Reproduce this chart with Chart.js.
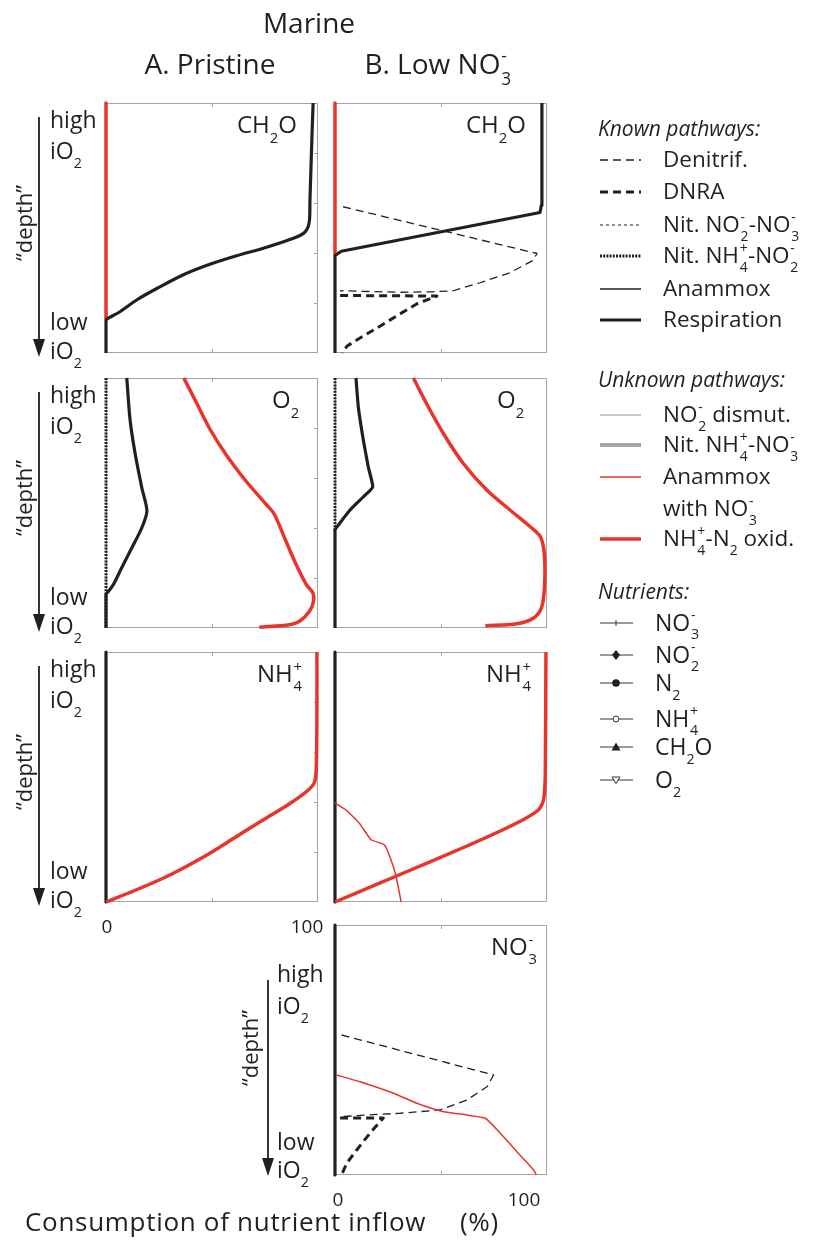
<!DOCTYPE html>
<html>
<head>
<meta charset="utf-8">
<title>Marine nitrogen pathways</title>
<script src="https://cdn.jsdelivr.net/npm/chart.js@4.4.1/dist/chart.umd.min.js"></script>
<style>
  body { margin: 0; background: #fff; }
  #fig { position: relative; width: 820px; height: 1246px; overflow: hidden;
         font-family: "Open Sans", "DejaVu Sans", sans-serif; color: #231f20; }
  #fig canvas { position: absolute; }
  #deco { position: absolute; left: 0; top: 0; }
  .t { position: absolute; line-height: 1; white-space: nowrap; }
  .sb { font-size: 0.62em; vertical-align: -0.65em; line-height: 1; }
  .ss { position: relative; display: inline-block; width: 0.4em; }
  .ss .u, .ss .d { position: absolute; left: 0.05em; font-size: 0.62em; line-height: 1; }
  .ss .u { top: -1.55em; }
  .ss .d { top: -0.24em; }
</style>
</head>
<body>
<div id="fig">
  <svg id="deco" width="820" height="1246"></svg>
</div>
<script>
// x = consumption of nutrient inflow (%), d = "depth" (0 = high iO2, 100 = low iO2)

// A. Pristine - CH2O
const aCh2oOxidX = [0, 0];
const aCh2oOxidD = [0, 86.5];
const aCh2oRespX = [0, 0, 1.2, 5.6, 15, 24.4, 37, 49, 62, 74.6, 87, 93.4, 95.8, 96.2, 97.2, 97.7];
const aCh2oRespD = [100, 87, 86, 84, 78.5, 74, 68.5, 64.5, 61, 58, 54.5, 52, 48, 39, 12, 0];

// B. Low NO3 - CH2O
const bCh2oOxidX = [0, 0];
const bCh2oOxidD = [0, 60.5];
const bCh2oRespX = [0, 0, 3, 96.7, 97.3, 97.6];
const bCh2oRespD = [100, 61, 59.3, 43.8, 41, 0];
const bCh2oDenitX = [3.8, 95.3, 93.4, 82.5, 68.4, 55.7, 46.2, 30.7, 2.4];
const bCh2oDenitD = [41.5, 60.2, 63, 67.9, 71.9, 75.1, 75.5, 75.7, 75.1];
const bCh2oDnraX = [2.4, 48.1, 38.7, 29.2, 19.8, 11.8, 5.7, 3.5];
const bCh2oDnraD = [77, 77.2, 80.3, 85.1, 90, 94, 97.2, 100];

// A. Pristine - O2
const aO2NitX = [0, 0];
const aO2NitD = [0, 100];
const aO2RespX = [9.8, 11.4, 13.8, 16.9, 19.3, 16.9, 12.2, 7.4, 3.5, 0.8, 0, 0];
const aO2RespD = [0, 17.1, 30.5, 43.9, 53.2, 59.9, 67.9, 75.9, 82.6, 85.7, 86.6, 100];
const aO2OxidX = [36.7, 42.2, 48.6, 56.5, 66, 75.5, 79.4, 84.2, 89.7, 94.5, 97.6, 97.9, 96, 91.3, 86.5, 72.3];
const aO2OxidD = [0, 9.1, 19.8, 30.5, 41.2, 50.5, 54.5, 63.9, 74.6, 82.6, 86, 89.3, 93.3, 97.3, 98.7, 99.7];

// B. Low NO3 - O2
const bO2NitX = [0, 0];
const bO2NitD = [0, 61];
const bO2RespX = [9.9, 11, 13.4, 15.7, 17.8, 13.4, 7.1, 1.6, 0, 0];
const bO2RespD = [0, 11.7, 25, 35.6, 43.6, 47.5, 52.8, 58.8, 60.8, 100];
const bO2OxidX = [37, 43.3, 51.2, 60.6, 71.7, 82.7, 92.1, 96.9, 98.7, 98.9, 97.6, 93.7, 85.8, 70.9];
const bO2OxidD = [0, 10.4, 22.3, 34.3, 44.9, 52.9, 59.5, 63.5, 70.1, 82.1, 91.4, 96, 98.3, 99.1];

// A. Pristine - NH4+
const aNh4RespX = [0, 0];
const aNh4RespD = [0, 100];
const aNh4OxidX = [0, 13.8, 26.4, 35.9, 48.6, 61.2, 73.9, 86.6, 95.3, 98.4, 99.2, 99.5, 99.5];
const aNh4OxidD = [100, 95.3, 90.7, 86.7, 80.7, 74, 67.3, 60.7, 55.3, 52, 46, 22, 0];

// B. Low NO3 - NH4+
const bNh4RespX = [0, 0];
const bNh4RespD = [0, 100];
const bNh4OxidX = [0, 30.4, 62, 85.8, 96.1, 98.4, 99.2, 99.5];
const bNh4OxidD = [100, 89.1, 77.7, 68.4, 63.1, 59.1, 48.4, 0];
const bNh4AnamX = [0, 5.1, 11.4, 17, 23.3, 26.4, 28.8, 31.2];
const bNh4AnamD = [60.4, 63.1, 68.4, 75.1, 77.1, 83.1, 89.7, 100];

// B. Low NO3 - NO3-
const bNo3RespX = [0, 0];
const bNo3RespD = [0, 100];
const bNo3DenitX = [3.1, 74.8, 71.7, 62.2, 49.6, 30.7, 15, 2.4];
const bNo3DenitD = [44, 60, 64.7, 70, 74, 75.3, 76, 76.7];
const bNo3DnraX = [2.4, 22.8, 16.5, 10.2, 5.5, 3.1];
const bNo3DnraD = [77.2, 77.2, 83.3, 90, 95.3, 100];
const bNo3AnamX = [0.8, 11.8, 27.6, 38.6, 51.2, 62.2, 70.9, 78, 85.8, 93.7, 95];
const bNo3AnamD = [60, 62.7, 67.3, 71.3, 74.7, 76, 77.3, 83.3, 90.7, 98, 100];

const xTickLabels = ['0', '100'];

const INK = '#231f20';
const RED = '#e8342a';

const STYLE = {
  denit:   { color: INK, width: 1.3, dash: [8, 5] },
  dnra:    { color: INK, width: 3, dash: [8, 5] },
  nitNO2:  { color: INK, width: 1, dash: [3, 3] },
  nitNH4:  { color: INK, width: 3, dash: [2, 1.2] },
  anam:    { color: INK, width: 1.3, dash: [] },
  resp:    { color: INK, width: 3.2, dash: [] },
  dismut:  { color: '#b3b3b3', width: 1.5, dash: [] },
  nitNO3:  { color: '#a6a6a6', width: 4, dash: [] },
  anamNO3: { color: RED, width: 1.5, dash: [] },
  oxid:    { color: RED, width: 3.5, dash: [] }
};

// panel boxes
const COL_LEFT = { A: 106, B: 335 };
const ROW_TOP = [103, 378, 652, 925];
const PW = 212, PH = 250, PAD = 6;

const sub = s => `<span class="sb">${s}</span>`;
const ss = (up, dn) => `<span class="ss"><span class="u">${up}</span><span class="d">${dn}</span></span>`;

const panels = [
  { col: 'A', row: 0, label: 'CH' + sub('2') + 'O', lx: 131, series: [
    ['oxid', aCh2oOxidX, aCh2oOxidD, 0], ['resp', aCh2oRespX, aCh2oRespD, 0.3]] },
  { col: 'B', row: 0, label: 'CH' + sub('2') + 'O', lx: 131, series: [
    ['oxid', bCh2oOxidX, bCh2oOxidD, 0], ['denit', bCh2oDenitX, bCh2oDenitD, 0],
    ['dnra', bCh2oDnraX, bCh2oDnraD, 0], ['resp', bCh2oRespX, bCh2oRespD, 0]] },
  { col: 'A', row: 1, label: 'O' + sub('2'), lx: 166, series: [
    ['nitNH4', aO2NitX, aO2NitD, 0], ['resp', aO2RespX, aO2RespD, 0.25], ['oxid', aO2OxidX, aO2OxidD, 0.3]] },
  { col: 'B', row: 1, label: 'O' + sub('2'), lx: 162, series: [
    ['nitNH4', bO2NitX, bO2NitD, 0], ['resp', bO2RespX, bO2RespD, 0.15], ['oxid', bO2OxidX, bO2OxidD, 0.3]] },
  { col: 'A', row: 2, label: 'NH' + ss('+', '4'), lx: 151, series: [
    ['resp', aNh4RespX, aNh4RespD, 0], ['oxid', aNh4OxidX, aNh4OxidD, 0.3]] },
  { col: 'B', row: 2, label: 'NH' + ss('+', '4'), lx: 151, series: [
    ['resp', bNh4RespX, bNh4RespD, 0], ['anamNO3', bNh4AnamX, bNh4AnamD, 0.1], ['oxid', bNh4OxidX, bNh4OxidD, 0.2]] },
  { col: 'B', row: 3, label: 'NO' + ss('-', '3'), lx: 156, series: [
    ['resp', bNo3RespX, bNo3RespD, 0], ['denit', bNo3DenitX, bNo3DenitD, 0],
    ['dnra', bNo3DnraX, bNo3DnraD, 0], ['anamNO3', bNo3AnamX, bNo3AnamD, 0.15]] }
];

const fig = document.getElementById('fig');
const deco = document.getElementById('deco');
const NS = 'http://www.w3.org/2000/svg';

function place(html, x, base, size, align, style) {
  const d = document.createElement('div');
  d.className = 't';
  d.innerHTML = html;
  d.style.fontSize = size + 'px';
  d.style.left = x + 'px';
  d.style.top = (base - 0.888 * size) + 'px';
  if (align === 'center') d.style.transform = 'translateX(-50%)';
  if (align === 'right') d.style.transform = 'translateX(-100%)';
  if (style) Object.assign(d.style, style);
  fig.appendChild(d);
  return d;
}

function svg(tag, attrs) {
  const el = document.createElementNS(NS, tag);
  for (const k in attrs) el.setAttribute(k, attrs[k]);
  deco.appendChild(el);
  return el;
}

// box outline and inward ticks
const framePlugin = {
  id: 'frame',
  beforeDatasetsDraw(chart, args, opts) {
    const { ctx, chartArea: a, scales: { x, y } } = chart;
    ctx.save();
    ctx.strokeStyle = '#a3a3a3';
    ctx.lineWidth = 1;
    ctx.strokeRect(a.left + 0.5, a.top + 0.5, a.width - 1, a.height - 1);
    ctx.beginPath();
    const mx = Math.round(x.getPixelForValue(50)) + 0.5;
    ctx.moveTo(mx, a.top); ctx.lineTo(mx, a.top + 4);
    ctx.moveTo(mx, a.bottom); ctx.lineTo(mx, a.bottom - 4);
    if (opts.rightTicks) {
      for (const v of [20, 40, 60, 80]) {
        const py = Math.round(y.getPixelForValue(v)) + 0.5;
        ctx.moveTo(a.right, py); ctx.lineTo(a.right - 4, py);
      }
    }
    ctx.stroke();
    ctx.restore();
  }
};

function toPoints(xs, ds) {
  return xs.map((v, i) => ({ x: v, y: ds[i] }));
}

panels.forEach(p => {
  const left = COL_LEFT[p.col], top = ROW_TOP[p.row];
  const cv = document.createElement('canvas');
  cv.width = PW + 2 * PAD;
  cv.height = PH + 2 * PAD;
  cv.style.left = (left - PAD) + 'px';
  cv.style.top = (top - PAD) + 'px';
  fig.insertBefore(cv, deco);

  const datasets = p.series.map(([key, xs, ds, tension], i) => ({
    data: toPoints(xs, ds),
    showLine: true,
    borderColor: STYLE[key].color,
    borderWidth: STYLE[key].width,
    borderDash: STYLE[key].dash,
    borderCapStyle: 'butt',
    borderJoinStyle: 'round',
    tension: tension,
    pointRadius: 0,
    fill: false,
    clip: false,
    order: -i
  }));

  new Chart(cv, {
    type: 'scatter',
    data: { datasets },
    options: {
      responsive: false,
      animation: false,
      layout: { padding: PAD },
      plugins: { legend: { display: false }, tooltip: { enabled: false }, frame: { rightTicks: p.col === 'A' } },
      scales: {
        x: { type: 'linear', min: 0, max: 100, display: false },
        y: { type: 'linear', min: 0, max: 100, reverse: true, display: false }
      }
    },
    plugins: [framePlugin]
  });

  place(p.label, left + p.lx, top + 30, 24);
});

// headings
place('Marine', 309, 33, 28, 'center');
place('A. Pristine', 210, 74, 28, 'center');
place('B. Low NO' + ss('-', '3'), 438, 74, 28, 'center');

// "depth" axis markers beside each row
function depthAxis(g) {
  place('high', g.tx, g.high, 23);
  place('iO' + sub('2'), g.tx, g.io1, 23);
  place('low', g.tx, g.low, 23);
  place('iO' + sub('2'), g.tx, g.io2, 23);
  svg('line', { x1: g.ax, y1: g.a1, x2: g.ax, y2: g.a2 - 14, stroke: INK, 'stroke-width': 1.8 });
  svg('polygon', { points: `${g.ax - 6},${g.a2 - 18} ${g.ax + 6},${g.a2 - 18} ${g.ax},${g.a2}`, fill: INK });
  const d = place('\u201Cdepth\u201D', g.dx, 0, 22);
  d.style.top = g.dc + 'px';
  d.style.transform = 'translate(-50%, -50%) rotate(-90deg)';
}
[0, 1, 2].forEach(r => {
  const T = ROW_TOP[r];
  depthAxis({ tx: 50, ax: 39, dx: 23, high: T + 25, io1: T + 56, low: T + 227, io2: T + 256,
              a1: T + 14, a2: T + 254, dc: T + 120 });
});
depthAxis({ tx: 277, ax: 268, dx: 249, high: 982, io1: 1014, low: 1150, io2: 1178,
            a1: 980, a2: 1176, dc: 1048 });

// x tick labels and axis title
place(xTickLabels[0], 107, 934, 19, 'center');
place(xTickLabels[1], 307, 934, 19, 'center');
place(xTickLabels[0], 338, 1207, 19, 'center');
place(xTickLabels[1], 524, 1207, 19, 'center');
place('Consumption of nutrient inflow', 25, 1231, 26, null, { letterSpacing: '0.7px' });
place('(%)', 460, 1231, 26, null, { letterSpacing: '0.7px' });

// legend
const LX1 = 600, LX2 = 641, LT = 663, LS = 22.5;
function legendLine(key, y, label) {
  const s = STYLE[key];
  svg('line', { x1: LX1, y1: y, x2: LX2, y2: y, stroke: s.color, 'stroke-width': s.width,
                'stroke-dasharray': s.dash.length ? s.dash.join(' ') : 'none' });
  if (label) place(label, LT, y + 8, LS);
}

place('Known pathways:', 598, 137, 21, null, { fontStyle: 'italic' });
legendLine('denit', 160, 'Denitrif.');
legendLine('dnra', 192, 'DNRA');
legendLine('nitNO2', 225, 'Nit. NO' + ss('-', '2') + '-NO' + ss('-', '3'));
legendLine('nitNH4', 256, 'Nit. NH' + ss('+', '4') + '-NO' + ss('-', '2'));
legendLine('anam', 289, 'Anammox');
legendLine('resp', 320, 'Respiration');

place('Unknown pathways:', 598, 388, 21, null, { fontStyle: 'italic' });
legendLine('dismut', 415, 'NO' + ss('-', '2') + ' dismut.');
legendLine('nitNO3', 445, 'Nit. NH' + ss('+', '4') + '-NO' + ss('-', '3'));
legendLine('anamNO3', 477, 'Anammox');
place('with NO' + ss('-', '3'), LT, 517, LS);
legendLine('oxid', 539, 'NH' + ss('+', '4') + '-N' + sub('2') + ' oxid.');

place('Nutrients:', 598, 600, 21, null, { fontStyle: 'italic' });
const NX1 = 600, NX2 = 633, NM = 616, NT = 655;
const nutrientRows = [
  ['plus', 623, 'NO' + ss('-', '3')],
  ['diamond', 655, 'NO' + ss('-', '2')],
  ['dot', 683, 'N' + sub('2')],
  ['ring', 719, 'NH' + ss('+', '4')],
  ['tri', 747, 'CH' + sub('2') + 'O'],
  ['trid', 780, 'O' + sub('2')]
];
nutrientRows.forEach(([m, y, label]) => {
  svg('line', { x1: NX1, y1: y, x2: NX2, y2: y, stroke: '#333', 'stroke-width': 1 });
  if (m === 'plus') svg('line', { x1: NM, y1: y - 3, x2: NM, y2: y + 3, stroke: '#333', 'stroke-width': 1 });
  if (m === 'diamond') svg('polygon', { points: `${NM},${y - 5} ${NM + 4},${y} ${NM},${y + 5} ${NM - 4},${y}`, fill: INK });
  if (m === 'dot') svg('circle', { cx: NM, cy: y, r: 3.8, fill: INK });
  if (m === 'ring') svg('circle', { cx: NM, cy: y, r: 3, fill: '#fff', stroke: '#333', 'stroke-width': 1 });
  if (m === 'tri') svg('polygon', { points: `${NM - 4.5},${y + 3.5} ${NM + 4.5},${y + 3.5} ${NM},${y - 4.5}`, fill: INK });
  if (m === 'trid') svg('polygon', { points: `${NM - 4},${y - 3} ${NM + 4},${y - 3} ${NM},${y + 3.5}`, fill: '#fff', stroke: '#333', 'stroke-width': 1 });
  place(label, NT, y + 8, 23);
});
</script>
</body>
</html>
